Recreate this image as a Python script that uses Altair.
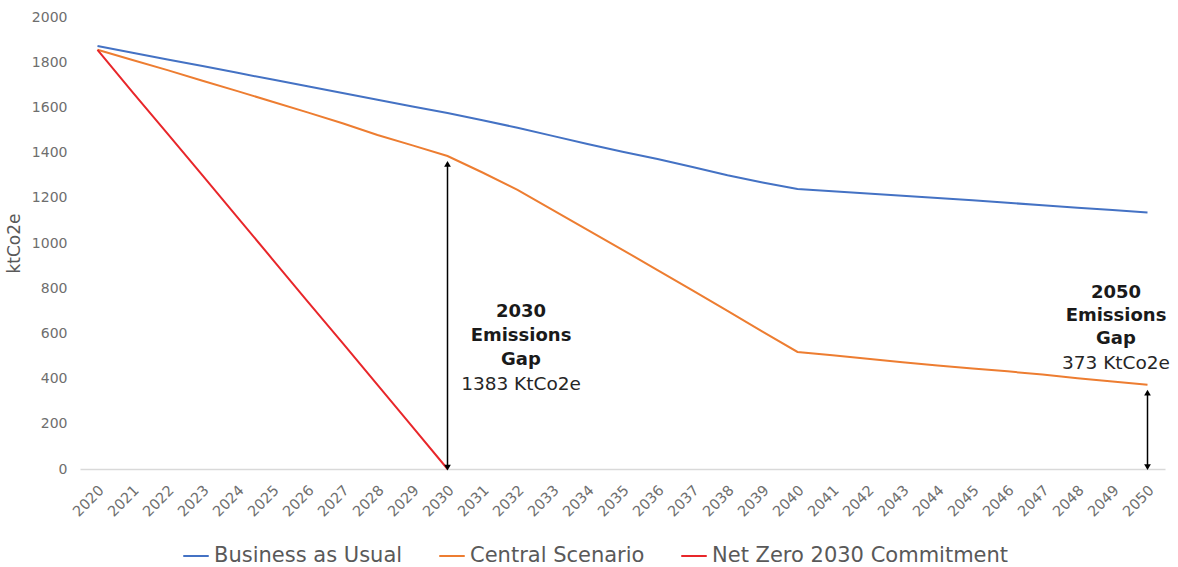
import altair as alt
import pandas as pd

years = list(range(2020, 2051))
bau = [1872, 1842, 1812, 1783, 1753, 1723, 1694, 1664, 1634, 1604, 1575,
       1543, 1510, 1474, 1438, 1404, 1372, 1336, 1300, 1268, 1239,
       1229, 1219, 1209, 1199, 1189, 1178, 1167, 1156, 1146, 1135]
central = [1855, 1810, 1765, 1718, 1672, 1625, 1578, 1530, 1478, 1432, 1385,
           1312, 1235, 1147, 1058, 970, 880, 790, 700, 608, 518,
           503, 488, 472, 458, 445, 432, 418, 402, 387, 373]
nz_years = list(range(2020, 2031))
netzero = [1855, 1668, 1484, 1299, 1113, 928, 742, 558, 372, 186, 0]

series_names = ["Business as Usual", "Central Scenario", "Net Zero 2030 Commitment"]
series_colors = ["#4472C4", "#ED7D31", "#E8262A"]

gap_years = [2030, 2050]
gap_top = [1350, 338]
gap_bottom = [6, 8]

ann_bold_x = [2032.1, 2032.1, 2032.1, 2049.1, 2049.1, 2049.1]
ann_bold_y = [695, 588, 482, 779, 677, 575]
ann_bold_text = ["2030", "Emissions", "Gap", "2050", "Emissions", "Gap"]
ann_norm_x = [2032.1, 2049.1]
ann_norm_y = [376, 469]
ann_norm_text = ["1383 KtCo2e", "373 KtCo2e"]
y_ticks = list(range(0, 2001, 200))

FONT = "DejaVu Sans"
GREY = "#595959"
LGREY = "#6e6e6e"

rows = []
for y, v in zip(years, bau):
    rows.append({"year": y, "value": v, "series": series_names[0]})
for y, v in zip(years, central):
    rows.append({"year": y, "value": v, "series": series_names[1]})
for y, v in zip(nz_years, netzero):
    rows.append({"year": y, "value": v, "series": series_names[2]})
df = pd.DataFrame(rows)

gaps = pd.DataFrame({"year": gap_years, "top": gap_top, "bottom": gap_bottom})
ann_b = pd.DataFrame({"year": ann_bold_x, "value": ann_bold_y, "t": ann_bold_text})
ann_n = pd.DataFrame({"year": ann_norm_x, "value": ann_norm_y, "t": ann_norm_text})

xs = alt.Scale(domain=[2019.5, 2050.5], nice=False, zero=False)
ys = alt.Scale(domain=[0, 2000], nice=False)

X_AXIS = alt.Axis(values=years, format="d", labelAngle=-45, labelAlign="right",
                  labelBaseline="middle", labelOverlap=False, labelFlush=False,
                  labelPadding=19, labelOffset=4)
Y_AXIS = alt.Axis(values=y_ticks, format="d")

def xenc(field="year"):
    return alt.X(f"{field}:Q", scale=xs, title=None, axis=X_AXIS)

def yenc(field="value"):
    return alt.Y(f"{field}:Q", scale=ys, title="ktCo2e", axis=Y_AXIS)

lines = alt.Chart(df).mark_line(strokeWidth=2).encode(
    x=xenc(),
    y=yenc(),
    color=alt.Color("series:N",
                    scale=alt.Scale(domain=series_names, range=series_colors),
                    legend=alt.Legend(orient="none", legendX=102, legendY=525,
                                      direction="horizontal", title=None,
                                      symbolType="stroke", symbolStrokeWidth=2,
                                      symbolSize=650, labelFontSize=21,
                                      labelColor=GREY, labelFont=FONT,
                                      columnPadding=32, labelOffset=4,
                                      labelLimit=400)),
    order=alt.Order("year:Q"),
)

shaft = alt.Chart(gaps).mark_rule(color="black", strokeWidth=1.5).encode(
    x=xenc(), y=yenc("top"), y2="bottom:Q")
head_up = alt.Chart(gaps).mark_point(shape="triangle-up", filled=True, size=45,
                                     color="black", opacity=1).encode(
    x=xenc(), y=yenc("top"))
head_down = alt.Chart(gaps).mark_point(shape="triangle-down", filled=True, size=45,
                                       color="black", opacity=1).encode(
    x=xenc(), y=yenc("bottom"))

txt_b = alt.Chart(ann_b).mark_text(font=FONT, fontSize=18, fontWeight="bold",
                                   color="#1a1a1a", align="center", baseline="middle").encode(
    x=xenc(), y=yenc(), text="t:N")
txt_n = alt.Chart(ann_n).mark_text(font=FONT, fontSize=18.5, color="#262626",
                                   align="center", baseline="middle").encode(
    x=xenc(), y=yenc(), text="t:N")

chart = alt.layer(lines, shaft, head_up, head_down, txt_b, txt_n).properties(
    width=1085, height=452,
    autosize=alt.AutoSizeParams(type="none"),
    padding={"left": 80, "top": 17, "right": 13, "bottom": 98},
).configure_view(stroke=None).configure_axisX(
    labelFontSize=14.5, labelColor=LGREY, labelFont=FONT, ticks=False, grid=False,
    domainColor="#D9D9D9", domainWidth=1.5,
).configure_axisY(
    grid=False, domain=False, ticks=False, labelFontSize=14, labelColor=LGREY,
    labelFont=FONT, labelPadding=13, titleFontSize=17, titleColor=GREY,
    titleFont=FONT, titleFontWeight="normal", titlePadding=8,
)

chart.save("out.html", embed_options={"renderer": "svg", "actions": False})
